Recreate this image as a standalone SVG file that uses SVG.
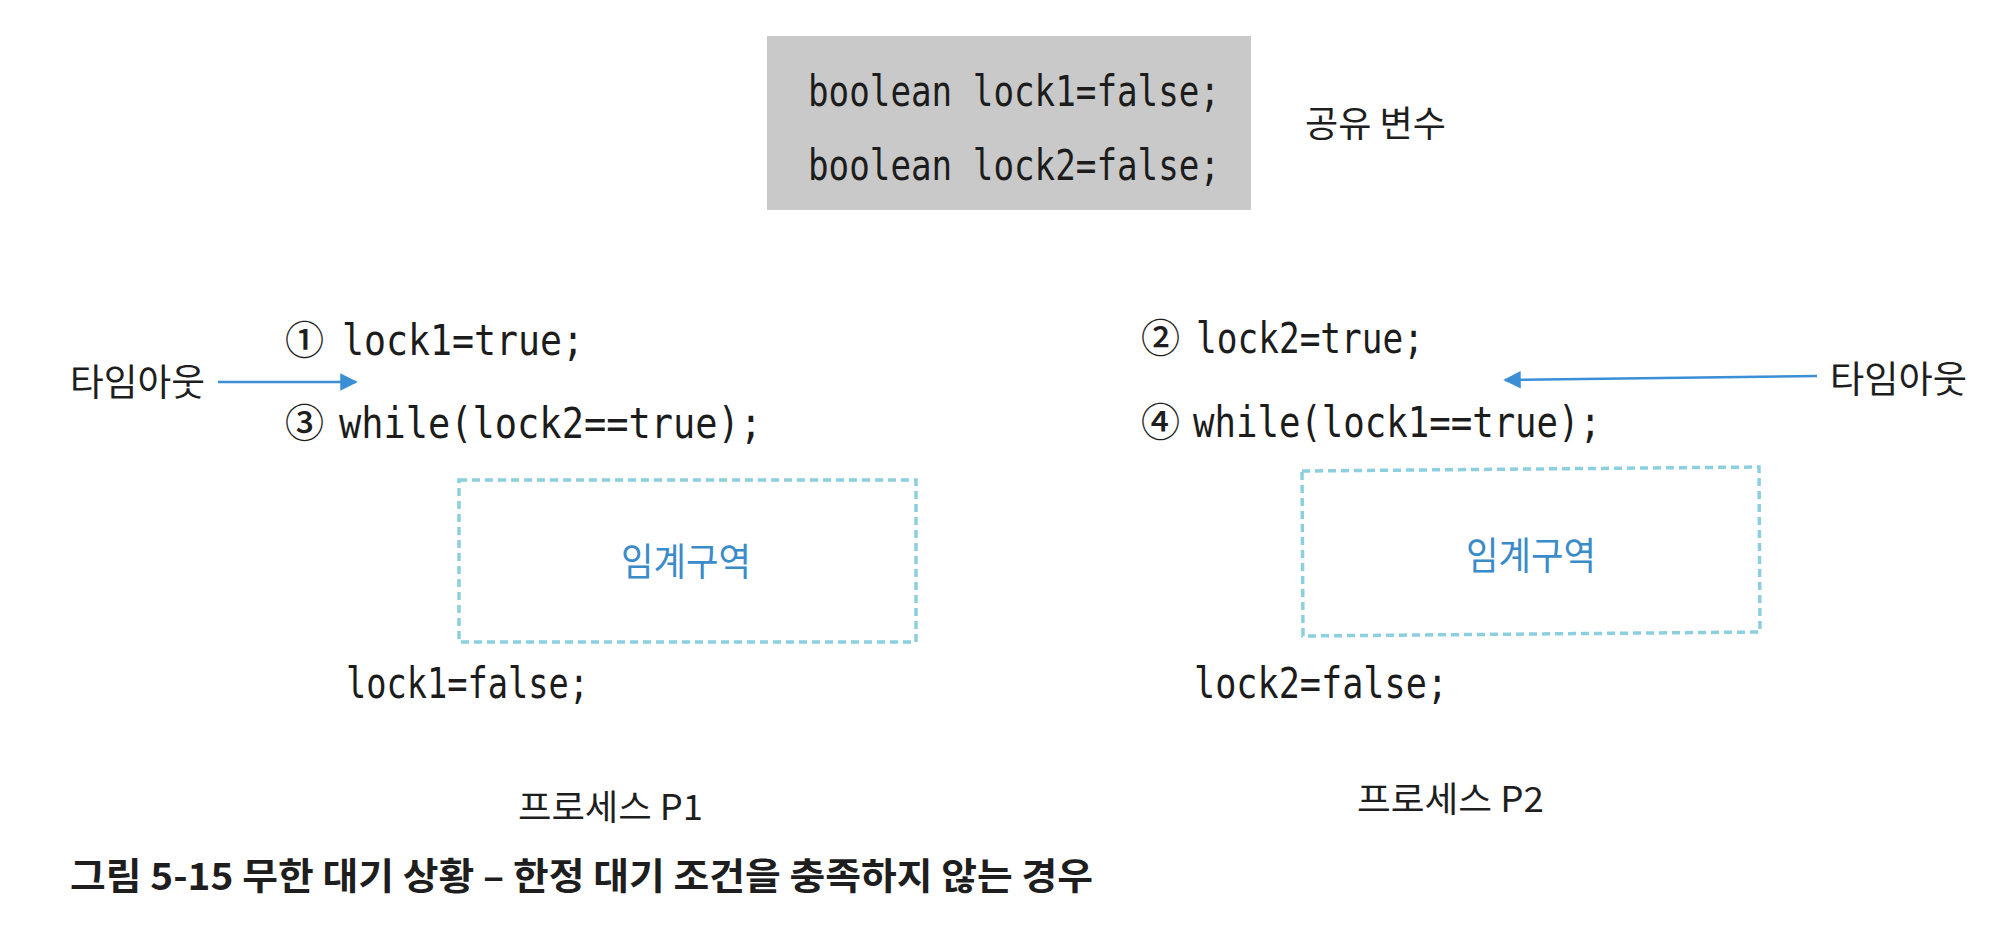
<svg xmlns="http://www.w3.org/2000/svg" width="1992" height="926" viewBox="0 0 1992 926">
<defs>
<style>
.code{font-family:"DejaVu Sans Mono","Liberation Mono",monospace;fill:#1c1c1c;font-size:42px;}
.kr{font-family:"Noto Sans CJK KR","Noto Sans",sans-serif;fill:#1e1e1e;}
.num{font-family:"Noto Sans CJK KR","DejaVu Sans",sans-serif;fill:#1e1e1e;font-size:39px;font-weight:500;}
.crit{fill:none;stroke:#8ccfdf;stroke-width:3.5;stroke-dasharray:8 5;}
.crittext{font-family:"Noto Sans CJK KR",sans-serif;fill:#3a8bc9;font-size:38px;}
.arrow{stroke:#3a8fd6;stroke-width:2.5;fill:none;}
</style>
<marker id="ah" viewBox="0 0 10 10" refX="9" refY="5" markerWidth="7" markerHeight="7" markerUnits="strokeWidth" orient="auto">
<path d="M0,0 L10,5 L0,10 z" fill="#3a8fd6"/>
</marker>
</defs>
<rect width="1992" height="926" fill="#ffffff"/>

<g id="shared">
<rect x="767" y="36" width="484" height="174" fill="#c9c9c9"/>
<text class="code" x="808" y="106" textLength="412" lengthAdjust="spacingAndGlyphs">boolean lock1=false;</text>
<text class="code" x="808" y="180" textLength="412" lengthAdjust="spacingAndGlyphs">boolean lock2=false;</text>
<text class="kr" x="1305" y="137" font-size="36" textLength="141" lengthAdjust="spacingAndGlyphs">공유 변수</text>
</g>

<g id="p1">
<text class="num" x="285" y="354">①</text>
<text class="code" x="342" y="355" textLength="242" lengthAdjust="spacingAndGlyphs">lock1=true;</text>
<text class="num" x="285" y="437">③</text>
<text class="code" x="339" y="438" textLength="423" lengthAdjust="spacingAndGlyphs">while(lock2==true);</text>
<text class="kr" x="70" y="396" font-size="37" textLength="135" lengthAdjust="spacingAndGlyphs">타임아웃</text>
<rect class="crit" x="459" y="480" width="457" height="162"/>
<text class="crittext" x="686" y="575" text-anchor="middle" textLength="130" lengthAdjust="spacingAndGlyphs">임계구역</text>
<text class="code" x="346" y="698" textLength="243" lengthAdjust="spacingAndGlyphs">lock1=false;</text>
<text class="kr" x="518" y="820" font-size="35" textLength="185" lengthAdjust="spacingAndGlyphs">프로세스 P1</text>
</g>

<g id="p2">
<text class="num" x="1141" y="352">②</text>
<text class="code" x="1196" y="353" textLength="228" lengthAdjust="spacingAndGlyphs">lock2=true;</text>
<text class="num" x="1141" y="436">④</text>
<text class="code" x="1193" y="437" textLength="408" lengthAdjust="spacingAndGlyphs">while(lock1==true);</text>
<text class="kr" x="1830" y="393" font-size="37" textLength="137" lengthAdjust="spacingAndGlyphs">타임아웃</text>
<path class="crit" d="M1302,471 L1759,467 L1760,632 L1303,636 Z"/>
<text class="crittext" x="1531" y="569" text-anchor="middle" textLength="130" lengthAdjust="spacingAndGlyphs">임계구역</text>
<text class="code" x="1194" y="698" textLength="254" lengthAdjust="spacingAndGlyphs">lock2=false;</text>
<text class="kr" x="1357" y="812" font-size="35" textLength="187" lengthAdjust="spacingAndGlyphs">프로세스 P2</text>
</g>

<g id="connectors">
<line class="arrow" x1="218" y1="382" x2="356" y2="382" marker-end="url(#ah)"/>
<line class="arrow" x1="1817" y1="376" x2="1505" y2="380" marker-end="url(#ah)"/>
</g>

<g id="caption">
<text class="kr" x="70" y="890" font-size="37" font-weight="bold" textLength="1023" lengthAdjust="spacingAndGlyphs">그림 5-15  무한 대기 상황 – 한정 대기 조건을 충족하지 않는 경우</text>
</g>
</svg>
